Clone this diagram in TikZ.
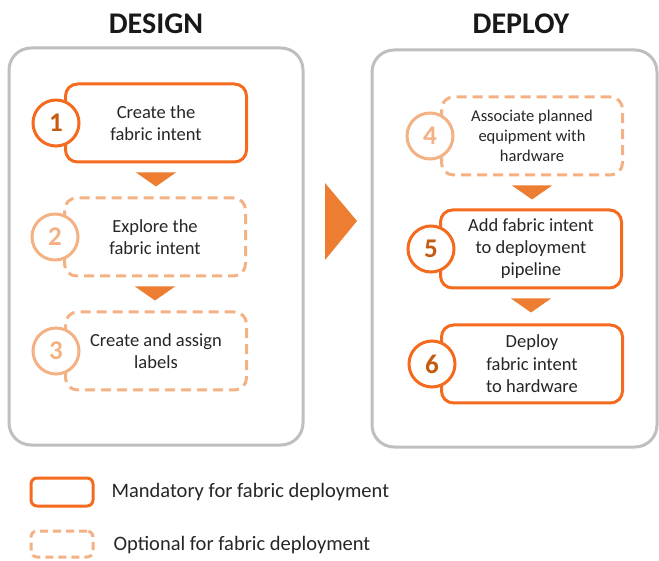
\documentclass[tikz,border=0pt]{standalone}
\usepackage{fontspec}
\setmainfont{Carlito}
\usetikzlibrary{calc}
\definecolor{orangeM}{HTML}{F46A1E}
\definecolor{orangeL}{HTML}{F4B183}
\definecolor{numD}{HTML}{C55A11}
\definecolor{triC}{HTML}{ED7D31}
\definecolor{panel}{HTML}{BFBFBF}
\definecolor{txt}{HTML}{262626}
\begin{document}
\begin{tikzpicture}[x=1pt,y=-1pt,
  panelbox/.style={draw=panel, line width=3pt, rounded corners=22pt},
  mand/.style={draw=orangeM, line width=3pt, rounded corners=12pt, fill=white,
    minimum width=181pt, minimum height=78pt, align=center, text=txt,
    font=\fontsize{18.5}{22}\selectfont, inner sep=0pt},
  opt/.style={mand, draw=orangeL, dash pattern=on 10pt off 6pt},
  numM/.style={circle, draw=orangeM, line width=3pt, fill=white, minimum size=46pt,
    inner sep=0pt, text=numD, font=\fontsize{27}{27}\selectfont\bfseries},
  numO/.style={numM, draw=orangeL, text=orangeL},
  title/.style={font=\fontsize{30}{32}\selectfont\bfseries, text=black!90},
  legtext/.style={anchor=west, text=txt, font=\fontsize{20.5}{24}\selectfont}]
\useasboundingbox (0,0) rectangle (659,561);

% titles
\node[title] (tD) at (156,24) {DESIGN};
\node[title] (tP) at (521,24) {DEPLOY};

% panels
\draw[panelbox] (9,48) rectangle (303,445);
\draw[panelbox] (372,50) rectangle (657,447);

% big arrow
\fill[triC] (325,183) -- (357,221) -- (325,260) -- cycle;

% design boxes
\node[mand] (b1) at (156,123) {Create the\\fabric intent};
\node[opt]  (b2) at (155,237) {Explore the\\fabric intent};
\node[opt]  (b3) at (156,351) {Create and assign\\labels};
% deploy boxes
\node[opt, font=\fontsize{16.5}{20}\selectfont] (b4) at (532,136) {Associate planned\\equipment with\\hardware};
\node[mand] (b5) at (531,249) {Add fabric intent\\to deployment\\pipeline};
\node[mand, font=\fontsize{18.5}{22.5}\selectfont] (b6) at (532,364) {Deploy\\fabric intent\\to hardware};

% number circles
\node[numM] (c1) at ($(b1.west)+(-8,0)$) {1};
\node[numO] (c2) at ($(b2.west)+(-8,0)$) {2};
\node[numO] (c3) at ($(b3.west)+(-8,0)$) {3};
\node[numO] (c4) at ($(b4.west)+(-10,0)$) {4};
\node[numM] (c5) at ($(b5.west)+(-8,0)$) {5};
\node[numM] (c6) at ($(b6.west)+(-8,0)$) {6};

% step connectors (down triangles)
\foreach \a in {b1,b2,b4,b5}{
  \fill[triC] ($(\a.south)+(-20,9)$) -- ($(\a.south)+(20,9)$) -- ($(\a.south)+(0,23)$) -- cycle;
}

% legend
\node[mand, minimum width=62pt, minimum height=28pt, rounded corners=6pt] (lm) at (62,492) {};
\node[opt, minimum width=62pt, minimum height=26pt, rounded corners=6pt, dash pattern=on 8pt off 5pt] (lo) at (62,544) {};
\node[legtext] (lmt) at (108,492) {Mandatory for fabric deployment};
\node[legtext] (lot) at (110,545) {Optional for fabric deployment};
\end{tikzpicture}
\end{document}
